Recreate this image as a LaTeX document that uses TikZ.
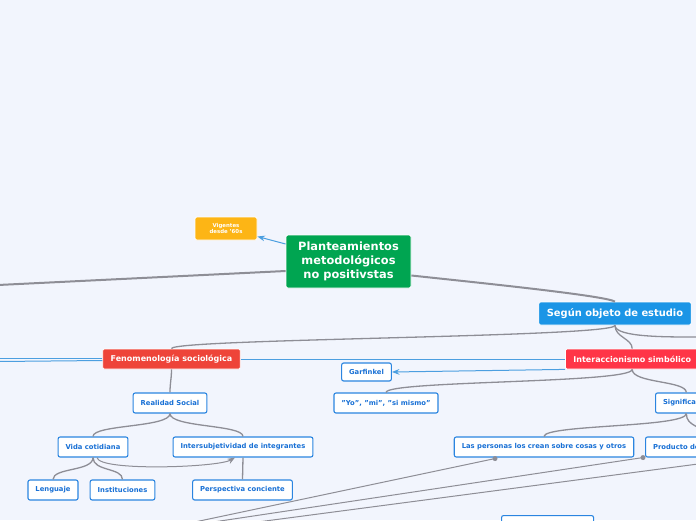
\documentclass[tikz,border=0pt]{standalone}
\usepackage{fontspec}
\setmainfont{DejaVu Sans}
\usepackage{tikz}
\usetikzlibrary{arrows.meta}
\definecolor{bgpage}{HTML}{F2F5FD}
\definecolor{rootgreen}{HTML}{00A551}
\definecolor{notegold}{HTML}{FDB515}
\definecolor{mainblue}{HTML}{1B95E6}
\definecolor{fenred}{HTML}{EE4439}
\definecolor{intred}{HTML}{FF3547}
\definecolor{leafblue}{HTML}{2B85E0}
\definecolor{leaftext}{HTML}{1870D5}
\definecolor{linkgray}{HTML}{8E8E96}
\definecolor{relblue}{HTML}{4C9FE0}

\begin{document}
\begin{tikzpicture}[x=1pt,y=-1pt,>=Stealth,
  leaf/.style={rectangle,rounded corners=2pt,fill=white,draw=leafblue,line width=1.1pt,text=leaftext,font=\fontsize{6.8}{8}\selectfont\bfseries,minimum height=20pt,inner xsep=7.5pt,inner ysep=2pt},
  topic/.style={rectangle,rounded corners=1.5pt,draw=white,line width=0.8pt,text=white,font=\fontsize{8}{9.5}\selectfont\bfseries,minimum height=20pt,inner xsep=8pt,inner ysep=2pt},
  branch/.style={draw=linkgray,line width=1.3pt},
  trunk/.style={draw=linkgray,line width=2pt},
  rel/.style={draw=relblue,line width=1pt},
  reldot/.style={circle,fill=linkgray,inner sep=0pt,minimum size=5pt}]
\fill[bgpage] (0,0) rectangle (696,520);
\useasboundingbox (0,0) rectangle (696,520);
\clip (0,0) rectangle (696,520);

% free ends off the page
\coordinate (izq) at (-2,285);
\coordinate (izqa) at (-2,358);
\coordinate (izqb) at (-2,361.5);
\coordinate (der) at (698,337);
\coordinate (derinf) at (698,464);
\coordinate (inf1) at (190,523);
\coordinate (inf2) at (200,524);
\coordinate (inf3) at (250,523);

% topics
\node[rectangle,rounded corners=2pt,fill=rootgreen,draw=white,line width=0.8pt,text=white,font=\fontsize{11.4}{14}\selectfont\bfseries,align=center,minimum width=125pt,minimum height=53pt,inner sep=2pt] (raiz) at (348.5,261.5) {Planteamientos\\metodológicos\\no positivstas};
\node[topic,fill=notegold,font=\fontsize{5.4}{6.5}\selectfont\bfseries,align=center,minimum width=62pt,minimum height=23pt] (vigentes) at (226,228.5) {Vigentes\\desde '60s};
\node[topic,fill=mainblue,font=\fontsize{9.9}{11}\selectfont\bfseries,minimum height=23pt] (segun) at (615,313.5) {Según objeto de estudio};
\node[topic,fill=fenred] (fenom) at (171.5,359) {Fenomenología sociológica};
\node[topic,fill=intred,anchor=west] (inter) at (565,359) {Interaccionismo simbólico};

% leaves
\node[leaf,minimum height=18pt] (garf) at (366.5,372) {Garfinkel};
\node[leaf] (yomi) at (386,403) {"Yo", "mi", "si mismo"};
\node[leaf,anchor=west] (signif) at (655,403) {Significados};
\node[leaf] (personas) at (544,447) {Las personas los crean sobre cosas y otros};
\node[leaf,anchor=west] (producto) at (645,447) {Producto de la interacción};
\node[leaf] (realidad) at (170,403) {Realidad Social};
\node[leaf] (vida) at (93,447) {Vida cotidiana};
\node[leaf] (intersub) at (243,447) {Intersubjetividad de integrantes};
\node[leaf] (lenguaje) at (53,490) {Lenguaje};
\node[leaf] (instit) at (122.5,490) {Instituciones};
\node[leaf] (perspect) at (242.5,490) {Perspectiva conciente};
\node[leaf,anchor=north west,minimum width=92pt] (nodoinf) at (501,515) {};

% trunk lines
\draw[trunk] (izq) -- ([yshift=-9.5pt]raiz.west);
\draw[trunk] ([yshift=-14pt]raiz.east) .. controls ([xshift=70pt,yshift=-21.5pt]raiz.east) and ([xshift=-10pt,yshift=6pt]segun.north) .. (segun.north);

% branches
\draw[branch] (segun.south) .. controls ([yshift=-12pt]segun.south) and ([yshift=10pt]fenom.north) .. (fenom.north);
\draw[branch] (segun.south) .. controls ([yshift=-12pt]segun.south) and ([yshift=10pt]inter.north) .. (inter.north);
\draw[branch] (segun.south) .. controls ([yshift=-12pt]segun.south) and ([xshift=-30pt]der) .. (der);
\draw[branch] (fenom.south) .. controls ([yshift=-10pt]fenom.south) and ([yshift=10pt]realidad.north) .. (realidad.north);
\draw[branch] (realidad.south) .. controls ([yshift=-14pt]realidad.south) and ([yshift=12pt]vida.north) .. (vida.north);
\draw[branch] (realidad.south) .. controls ([yshift=-14pt]realidad.south) and ([yshift=12pt]intersub.north) .. (intersub.north);
\draw[branch] (vida.south) .. controls ([yshift=-14pt]vida.south) and ([yshift=12pt]lenguaje.north) .. (lenguaje.north);
\draw[branch] (vida.south) .. controls ([yshift=-14pt]vida.south) and ([yshift=12pt]instit.north) .. (instit.north);
\draw[branch] (intersub.south) -- (perspect.north);
\draw[branch] (inter.south) .. controls ([yshift=-14pt]inter.south) and ([yshift=12pt]yomi.north) .. (yomi.north);
\draw[branch] (inter.south) .. controls ([yshift=-14pt]inter.south) and ([yshift=12pt]signif.north) .. (signif.north);
\draw[branch] (signif.south) .. controls ([yshift=-14pt]signif.south) and ([yshift=12pt]personas.north) .. (personas.north);
\draw[branch] (signif.south) .. controls ([yshift=-14pt]signif.south) and ([yshift=12pt]producto.north) .. (producto.north);

% relations
\draw[rel,->] ([yshift=17.5pt]raiz.west) -- ([yshift=-8pt]vigentes.east);
\draw[rel,->] (inter.south west) -- (garf.east);
\draw[rel] (fenom.east) -- (inter.west);
\draw[rel] ([yshift=1pt]fenom.west) -- (izqa);
\draw[rel] ([yshift=-1.5pt]fenom.west) -- (izqb);
\draw[branch,line width=1pt,->] ([xshift=4pt]vida.south) .. controls ([xshift=6pt,yshift=-14pt]vida.south) and ([xshift=-25pt,yshift=-10pt]intersub.south) .. ([xshift=-8pt]intersub.south);
\node[reldot] (punto1) at ([xshift=-49pt,yshift=-1pt]personas.south) {};
\node[reldot] (punto2) at ([xshift=-2pt]producto.south west) {};
\draw[branch,line width=1pt] (punto1.center) -- (inf1);
\draw[branch,line width=1pt] (punto2.center) -- (inf2);
\draw[branch,line width=1pt] (derinf) -- (inf3);
\end{tikzpicture}
\end{document}
